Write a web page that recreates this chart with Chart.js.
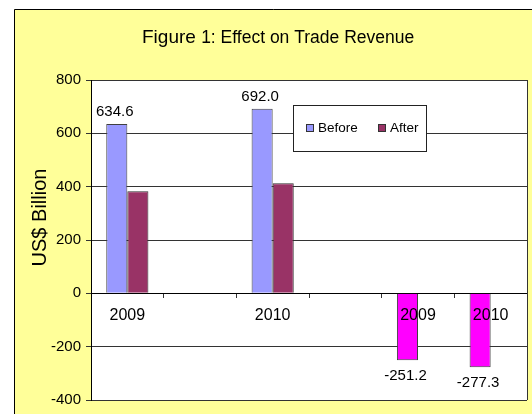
<!DOCTYPE html>
<html>
<head>
<meta charset="utf-8">
<script src="https://cdn.jsdelivr.net/npm/chart.js@4/dist/chart.umd.min.js"></script>
<style>
  body { margin: 0; background: #fff; }
  canvas { display: block; }
</style>
</head>
<body>
<canvas id="revenueChart" width="532" height="414"></canvas>
<script>
// data
const categories = ['2009', '', '2010', '', '2009', '2010'];
const beforeValues = [634.6, null, 692.0, null, -251.2, -277.3];
const afterValues = [383, null, 413, null, null, null];
const yTicks = [-400, -200, 0, 200, 400, 600, 800];
const seriesNames = ['Before', 'After'];

const FONT = '"Liberation Sans", Arial, sans-serif';
const BEFORE_COLOR = '#9999FF';
const AFTER_COLOR = '#993366';
const LOSS_COLOR = '#FF00FF';

// frame, title, axis title, value labels and legend
const decorPlugin = {
    id: 'decor',
    beforeDraw(chart) {
        const ctx = chart.ctx;
        const a = chart.chartArea;
        ctx.save();
        ctx.fillStyle = '#fff';
        ctx.fillRect(0, 0, chart.width, chart.height);
        ctx.fillStyle = '#FFFF99';
        ctx.fillRect(14, 9, chart.width - 14, chart.height - 9);
        ctx.strokeStyle = '#000';
        ctx.lineWidth = 1;
        ctx.beginPath();
        ctx.moveTo(14.5, chart.height);
        ctx.lineTo(14.5, 9.5);
        ctx.lineTo(chart.width, 9.5);
        ctx.stroke();
        ctx.fillStyle = '#fff';
        ctx.fillRect(a.left, a.top, a.right - a.left, a.bottom - a.top);

        // title with the mixed font sizes
        ctx.fillStyle = '#000';
        ctx.textBaseline = 'alphabetic';
        ctx.textAlign = 'left';
        ctx.font = '19px ' + FONT;
        ctx.fillText('Figure ', 142, 42.5);
        const w = ctx.measureText('Figure ').width;
        ctx.font = '17.5px ' + FONT;
        ctx.fillText('1: Effect on Trade Revenue', 142 + w, 42.5);

        // y axis title
        ctx.translate(40, 217.5);
        ctx.rotate(-Math.PI / 2);
        ctx.textAlign = 'center';
        ctx.textBaseline = 'middle';
        ctx.font = '20px ' + FONT;
        ctx.fillText('US$ Billion', 0, 0);
        ctx.restore();
    },
    beforeDatasetsDraw(chart) {
        const ctx = chart.ctx;
        const a = chart.chartArea;
        ctx.save();
        ctx.strokeStyle = '#333';
        ctx.lineWidth = 1;
        ctx.beginPath();
        ctx.moveTo(Math.round(a.right) + 0.5, a.top);
        ctx.lineTo(Math.round(a.right) + 0.5, a.bottom);
        ctx.stroke();
        ctx.restore();
    },
    afterDraw(chart) {
        const ctx = chart.ctx;
        ctx.save();
        // value labels on the first series
        ctx.font = '15px ' + FONT;
        ctx.fillStyle = '#000';
        ctx.textAlign = 'center';
        ctx.textBaseline = 'alphabetic';
        chart.getDatasetMeta(0).data.forEach((bar, i) => {
            const v = beforeValues[i];
            if (v === null) return;
            const y = v >= 0 ? bar.y - 8 : bar.y + 20;
            ctx.fillText(v.toFixed(1), bar.x - 2, y);
        });

        // legend box
        ctx.fillStyle = '#fff';
        ctx.fillRect(293, 105, 133, 46);
        ctx.strokeStyle = '#222';
        ctx.lineWidth = 1;
        ctx.strokeRect(293.5, 105.5, 133, 46);
        const items = [
            { text: seriesNames[0], color: BEFORE_COLOR, x: 306 },
            { text: seriesNames[1], color: AFTER_COLOR, x: 378 }
        ];
        ctx.font = '13.5px ' + FONT;
        ctx.textAlign = 'left';
        items.forEach(it => {
            ctx.fillStyle = it.color;
            ctx.fillRect(it.x, 124, 7, 7);
            ctx.strokeStyle = '#333';
            ctx.strokeRect(it.x + 0.5, 124.5, 7, 7);
            ctx.fillStyle = '#000';
            ctx.fillText(it.text, it.x + 12, 131.5);
        });
        ctx.restore();
    }
};

new Chart(document.getElementById('revenueChart'), {
    type: 'bar',
    data: {
        labels: categories,
        datasets: [{
            label: seriesNames[0],
            data: beforeValues,
            backgroundColor: c => (c.raw < 0 ? LOSS_COLOR : BEFORE_COLOR),
            borderColor: '#404040',
            borderWidth: 1,
            categoryPercentage: 0.58,
            barPercentage: 1
        }, {
            label: seriesNames[1],
            data: afterValues,
            backgroundColor: AFTER_COLOR,
            borderColor: '#303030',
            borderWidth: 1,
            categoryPercentage: 0.58,
            barPercentage: 1
        }]
    },
    options: {
        responsive: false,
        animation: false,
        devicePixelRatio: 1,
        layout: { padding: { left: 0, top: 80, right: 5, bottom: 8 } },
        plugins: {
            legend: { display: false },
            title: { display: false },
            tooltip: { enabled: false }
        },
        scales: {
            x: {
                position: { y: 0 },
                grid: {
                    drawOnChartArea: false,
                    offset: true,
                    tickLength: 4,
                    color: '#333'
                },
                border: { color: '#000', width: 1 },
                ticks: {
                    z: 1,
                    color: '#000',
                    padding: 9,
                    font: { family: FONT, size: 16 }
                }
            },
            y: {
                min: yTicks[0],
                max: yTicks[yTicks.length - 1],
                afterFit(scale) { scale.width = 91; },
                afterBuildTicks(scale) { scale.ticks = yTicks.map(v => ({ value: v })); },
                grid: {
                    color: '#333',
                    tickLength: 5
                },
                border: { color: '#000', width: 1 },
                ticks: {
                    color: '#000',
                    padding: 5,
                    font: { family: FONT, size: 15 }
                }
            }
        }
    },
    plugins: [decorPlugin]
});
</script>
</body>
</html>
